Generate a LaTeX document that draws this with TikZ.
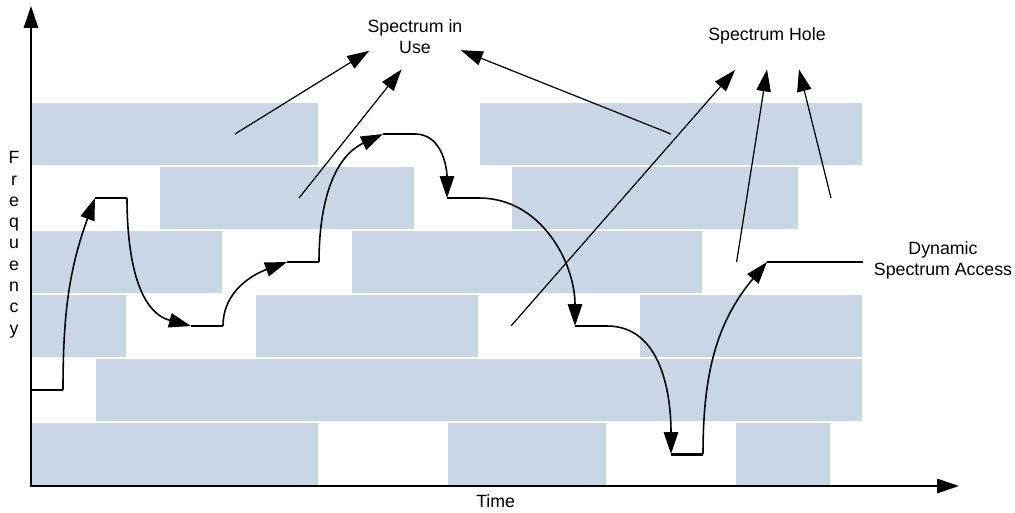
\documentclass[tikz,border=0pt]{standalone}
\usepackage{fontspec}
\setmainfont{Liberation Sans}
\usetikzlibrary{arrows.meta}

\definecolor{bandblue}{RGB}{201,214,229}
\tikzset{
	band/.style={fill=bandblue, draw=white, line width=0.6pt},
	bigtip/.style={-{Triangle[length=0.44cm, width=0.29cm]}},
	axis/.style={line width=0.9pt, {Triangle[length=0.44cm, width=0.29cm]}-{Triangle[length=0.44cm, width=0.29cm]}},
	dwell/.style={line width=1.7pt},
	hop/.style={bigtip, line width=0.9pt},
	pointer/.style={bigtip, line width=0.7pt},
	lbl/.style={font=\fontsize{10.1}{12.1}\selectfont, align=center, inner sep=0pt}
}

\begin{document}
\begin{tikzpicture}[x=0.64cm, y=1.28cm]
			\useasboundingbox (-0.96875,-0.40625) rectangle (30.75,7.59375);
			% occupied bands, from the top row down
			\foreach \a/\b/\r in {0/9/5, 14/26/5, 4/12/4, 15/24/4, 0/6/3, 10/21/3, 0/3/2, 7/14/2, 19/26/2, 2/26/1, 0/9/0, 13/18/0, 22/25/0}
				\draw[band] (\a,\r) rectangle (\b,\r+1);
			\coordinate (O) at (0,0);
			\coordinate (ytop) at (0,7.5);
			\coordinate (xend) at (29,0);
			\draw[axis] (ytop) -- (O) -- (xend);
			\foreach \n/\xs/\xe/\y in {0/0/1/1.5, 1/2/3/4.5, 2/5/6/2.5, 3/8/9/3.5, 4/11/12/5.5, 5/13/14/4.5, 6/17/18/2.5, 7/20/21/0.5, 8/23/26/3.5}
			{
				\coordinate (s\n) at (\xs,\y);
				\coordinate (e\n) at (\xe,\y);
				\draw[dwell] (s\n) -- (e\n);
			}
			\draw[hop] (e0) to[out=90, in=250] (s1);
			\draw[hop] (e1) to[out=-90, in=165] (s2);
			\draw[hop] (e2) to[out=90, in=200] (s3);
			\draw[hop] (e3) to[out=90, in=205] (s4);
			\draw[hop] (e4) to[out=0, in=90] (s5);
			\draw[hop] (e5) to[out=0, in=90] (s6);
			\draw[hop] (e6) to[out=0, in=90] (s7);
			\draw[hop] (e7) to[out=90, in=230] (s8);
			\node[lbl] (use) at (12,7.02) {Spectrum in\\Use};
			\node[lbl] (hole) at (23,7.03) {Spectrum Hole};
			\node[lbl] (dsa) at (28.5,3.52) {Dynamic\\Spectrum Access};
			\node[lbl] (time) at (14.52,-0.23) {Time};
			\node[lbl] (freq) at (-0.53,3.77) {F\\r\\e\\q\\u\\e\\n\\c\\y};
			\coordinate (u1) at (6.375,5.5);
			\coordinate (u2) at (8.375,4.5);
			\coordinate (u3) at (20,5.5);
			\coordinate (ut1) at (10.57,6.8);
			\coordinate (ut2) at (11.58,6.51);
			\coordinate (ut3) at (13.43,6.81);
			\draw[pointer] (u1) -- (ut1);
			\draw[pointer] (u2) -- (ut2);
			\draw[pointer] (u3) -- (ut3);
			\coordinate (h1) at (15,2.5);
			\coordinate (h2) at (22.05,3.5);
			\coordinate (h3) at (25,4.5);
			\coordinate (ht1) at (22,6.5);
			\coordinate (ht2) at (23,6.51);
			\coordinate (ht3) at (24,6.51);
			\draw[pointer] (h1) -- (ht1);
			\draw[pointer] (h2) -- (ht2);
			\draw[pointer] (h3) -- (ht3);
		\end{tikzpicture}
\end{document}
